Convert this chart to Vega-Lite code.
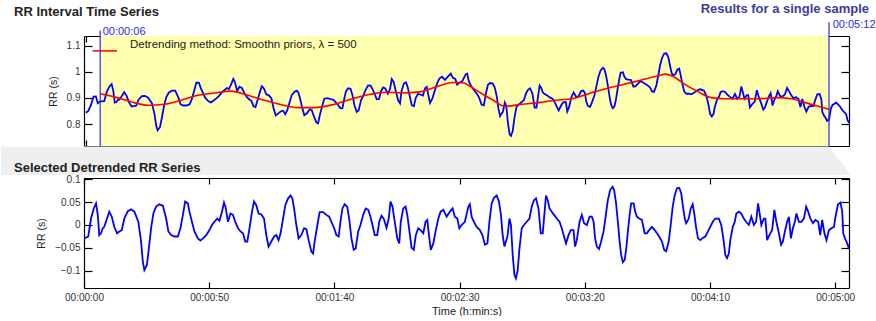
{
"$schema": "https://vega.github.io/schema/vega-lite/v6.json",
"background": "white",
"padding": {"left": 0, "top": 2, "right": 0, "bottom": 0},
"bounds": "flush",
"spacing": 32,
"config": {
  "view": {"stroke": null},
  "font": "Liberation Sans",
  "axis": {"domain": true, "domainColor": "#000", "domainWidth": 1.2, "grid": false, "labelFont": "Liberation Sans", "labelFontSize": 10, "labelColor": "#333", "tickColor": "#000", "tickWidth": 1.2, "titleFont": "Liberation Sans", "titleFontSize": 10.5, "titleFontWeight": "normal", "titleColor": "#222", "zindex": 1},
  "title": {"font": "Liberation Sans", "fontSize": 13, "fontWeight": "bold", "color": "#222", "anchor": "start", "frame": "group", "baseline": "alphabetic"}
},
"datasets": {
"rr": [{"t":0,"v":0.843},{"t":1.0,"v":0.850},{"t":2.1,"v":0.872},{"t":3.2,"v":0.905},{"t":4.2,"v":0.906},{"t":5.0,"v":0.880},{"t":5.6,"v":0.884},
{"t":6.1,"v":0.887},{"t":7.7,"v":0.888},{"t":8.8,"v":0.924},{"t":9.9,"v":0.944},{"t":10.8,"v":0.953},{"t":11.5,"v":0.927},{"t":12.1,"v":0.882},{"t":12.8,"v":0.884},{"t":13.5,"v":0.893},{"t":14.1,"v":0.894},{"t":15.2,"v":0.909},{"t":16.1,"v":0.922},{"t":17.1,"v":0.908},{"t":18.1,"v":0.883},{"t":19.2,"v":0.867},{"t":20.1,"v":0.869},{"t":21.1,"v":0.870},{"t":22.1,"v":0.893},{"t":23.5,"v":0.907},{"t":24.8,"v":0.908},{"t":26.1,"v":0.901},{"t":27.7,"v":0.880},{"t":28.8,"v":0.838},{"t":29.5,"v":0.794},{"t":30.1,"v":0.776},{"t":31.1,"v":0.788},{"t":31.9,"v":0.824},{"t":32.8,"v":0.869},{"t":33.7,"v":0.902},{"t":34.8,"v":0.920},{"t":36.1,"v":0.928},{"t":37.5,"v":0.928},{"t":38.8,"v":0.902},{"t":39.7,"v":0.876},{"t":40.8,"v":0.871},{"t":42.1,"v":0.871},{"t":43.5,"v":0.875},{"t":44.5,"v":0.896},{"t":45.5,"v":0.928},{"t":46.4,"v":0.959},{"t":47.5,"v":0.958},{"t":48.1,"v":0.940},{"t":49.1,"v":0.920},{"t":50.1,"v":0.900},{"t":51.5,"v":0.887},{"t":52.5,"v":0.883},{"t":53.5,"v":0.889},{"t":54.8,"v":0.898},{"t":56.1,"v":0.910},{"t":57.1,"v":0.922},{"t":58.1,"v":0.930},{"t":59.2,"v":0.938},{"t":60.1,"v":0.934},{"t":61.1,"v":0.955},{"t":61.9,"v":0.973},{"t":62.5,"v":0.963},{"t":63.5,"v":0.927},{"t":64.5,"v":0.943},{"t":65.5,"v":0.938},{"t":66.4,"v":0.921},{"t":67.5,"v":0.904},{"t":68.5,"v":0.895},{"t":69.5,"v":0.888},{"t":70.4,"v":0.868},{"t":71.2,"v":0.865},{"t":72.1,"v":0.892},{"t":73.1,"v":0.925},{"t":73.9,"v":0.945},{"t":74.8,"v":0.935},{"t":75.7,"v":0.914},{"t":76.8,"v":0.910},{"t":77.9,"v":0.898},{"t":78.8,"v":0.860},{"t":79.7,"v":0.833},{"t":80.8,"v":0.841},{"t":81.9,"v":0.849},{"t":82.8,"v":0.851},{"t":83.7,"v":0.838},{"t":84.5,"v":0.852},{"t":85.5,"v":0.882},{"t":86.4,"v":0.910},{"t":87.5,"v":0.923},{"t":88.5,"v":0.928},{"t":89.2,"v":0.921},{"t":89.9,"v":0.899},{"t":90.8,"v":0.863},{"t":91.7,"v":0.834},{"t":92.8,"v":0.841},{"t":93.9,"v":0.856},{"t":94.8,"v":0.854},{"t":95.7,"v":0.830},{"t":96.8,"v":0.806},{"t":97.5,"v":0.803},{"t":98.1,"v":0.830},{"t":99.2,"v":0.868},{"t":100.1,"v":0.897},{"t":101.5,"v":0.899},{"t":102.8,"v":0.895},{"t":103.9,"v":0.893},{"t":104.8,"v":0.884},{"t":105.9,"v":0.873},{"t":106.8,"v":0.861},{"t":107.7,"v":0.860},
{"t":108.4,"v":0.894},{"t":109.2,"v":0.925},{"t":110.1,"v":0.937},{"t":111.1,"v":0.935},{"t":111.9,"v":0.911},{"t":112.8,"v":0.870},{"t":113.7,"v":0.847},{"t":114.5,"v":0.852},{"t":115.5,"v":0.891},{"t":116.4,"v":0.907},{"t":117.5,"v":0.932},{"t":118.5,"v":0.948},{"t":119.5,"v":0.947},{"t":120.4,"v":0.933},{"t":121.2,"v":0.916},{"t":122.1,"v":0.895},{"t":123.1,"v":0.896},{"t":123.9,"v":0.926},{"t":124.8,"v":0.940},{"t":125.7,"v":0.936},{"t":126.8,"v":0.916},{"t":127.7,"v":0.935},{"t":128.4,"v":0.972},{"t":129.2,"v":0.961},{"t":130.1,"v":0.927},{"t":131.1,"v":0.891},{"t":131.9,"v":0.879},{"t":132.5,"v":0.926},{"t":133.5,"v":0.955},{"t":134.4,"v":0.960},{"t":135.1,"v":0.942},{"t":135.9,"v":0.910},{"t":136.8,"v":0.872},{"t":137.7,"v":0.868},{"t":138.5,"v":0.900},{"t":139.5,"v":0.916},{"t":140.4,"v":0.913},{"t":141.5,"v":0.909},{"t":142.4,"v":0.937},{"t":143.1,"v":0.942},{"t":143.9,"v":0.905},{"t":144.5,"v":0.881},{"t":145.5,"v":0.898},{"t":146.4,"v":0.926},{"t":147.5,"v":0.957},{"t":148.4,"v":0.974},{"t":149.5,"v":0.981},{"t":150.8,"v":0.969},{"t":152.1,"v":0.983},{"t":153.2,"v":0.993},{"t":154.1,"v":0.977},{"t":155.1,"v":0.973},{"t":155.9,"v":0.951},{"t":156.8,"v":0.958},{"t":158.1,"v":0.965},{"t":159.5,"v":0.991},{"t":160.1,"v":0.993},{"t":160.8,"v":0.963},{"t":161.7,"v":0.947},{"t":162.8,"v":0.931},{"t":164.1,"v":0.917},{"t":165.1,"v":0.901},{"t":166.1,"v":0.875},{"t":167.1,"v":0.872},{"t":167.9,"v":0.915},{"t":168.8,"v":0.950},{"t":169.7,"v":0.957},{"t":170.8,"v":0.956},{"t":171.7,"v":0.939},{"t":172.5,"v":0.906},{"t":173.2,"v":0.859},{"t":173.9,"v":0.830},{"t":174.5,"v":0.839},{"t":175.1,"v":0.847},{"t":175.9,"v":0.882},{"t":176.5,"v":0.869},{"t":177.2,"v":0.804},{"t":177.9,"v":0.761},{"t":178.5,"v":0.755},{"t":179.2,"v":0.773},{"t":179.9,"v":0.821},{"t":180.8,"v":0.866},{"t":181.7,"v":0.874},{"t":182.8,"v":0.883},{"t":183.9,"v":0.891},{"t":184.8,"v":0.918},{"t":185.7,"v":0.932},{"t":186.5,"v":0.937},{"t":187.5,"v":0.916},{"t":188.4,"v":0.863},{"t":189.2,"v":0.863},{"t":189.7,"v":0.896},{"t":190.5,"v":0.947},{"t":191.2,"v":0.938},{"t":191.9,"v":0.920},{"t":192.8,"v":0.914},{"t":193.7,"v":0.909},{"t":194.8,"v":0.902},{"t":195.9,"v":0.897},{"t":196.8,"v":0.884},{"t":197.7,"v":0.867},{"t":198.5,"v":0.852},{"t":199.5,"v":0.871},{"t":200.4,"v":0.883},{"t":201.5,"v":0.884},{"t":202.1,"v":0.848},{"t":202.8,"v":0.863},{"t":203.9,"v":0.904},{"t":204.8,"v":0.921},{"t":205.7,"v":0.906},{"t":206.8,"v":0.905},{"t":207.9,"v":0.926},{"t":208.8,"v":0.928},
{"t":209.5,"v":0.919},{"t":210.1,"v":0.885},{"t":210.8,"v":0.869},{"t":211.7,"v":0.866},{"t":212.5,"v":0.884},{"t":213.5,"v":0.909},{"t":214.4,"v":0.947},{"t":215.2,"v":0.981},{"t":216.1,"v":1.005},{"t":217.1,"v":1.015},{"t":217.7,"v":1.010},{"t":218.4,"v":0.986},{"t":219.2,"v":0.944},{"t":219.9,"v":0.903},{"t":220.5,"v":0.875},{"t":221.2,"v":0.861},{"t":221.9,"v":0.867},{"t":222.5,"v":0.891},{"t":223.2,"v":0.932},{"t":223.9,"v":0.970},{"t":224.5,"v":0.996},{"t":225.5,"v":0.998},{"t":226.1,"v":0.981},{"t":226.8,"v":0.972},{"t":227.7,"v":0.970},{"t":228.8,"v":0.969},{"t":229.9,"v":0.943},{"t":230.8,"v":0.945},{"t":231.7,"v":0.954},{"t":232.8,"v":0.964},{"t":233.9,"v":0.959},{"t":234.8,"v":0.954},{"t":235.7,"v":0.949},{"t":236.8,"v":0.941},{"t":237.7,"v":0.925},{"t":238.5,"v":0.923},{"t":239.5,"v":0.947},{"t":240.3,"v":0.985},{"t":241.1,"v":1.026},{"t":241.9,"v":1.053},{"t":242.8,"v":1.070},{"t":243.7,"v":1.071},{"t":244.5,"v":1.057},{"t":245.2,"v":1.026},{"t":245.9,"v":0.997},{"t":246.5,"v":0.986},{"t":247.5,"v":0.991},{"t":248.3,"v":1.008},{"t":249.1,"v":1.012},{"t":249.7,"v":0.988},{"t":250.4,"v":0.955},{"t":251.2,"v":0.925},{"t":252.1,"v":0.916},{"t":253.1,"v":0.916},{"t":254.1,"v":0.914},{"t":255.2,"v":0.919},{"t":256.1,"v":0.925},{"t":257.1,"v":0.931},{"t":258.1,"v":0.933},{"t":259.5,"v":0.928},{"t":260.5,"v":0.909},{"t":261.5,"v":0.869},{"t":262.1,"v":0.838},{"t":262.8,"v":0.829},{"t":263.5,"v":0.838},{"t":264.1,"v":0.867},{"t":265.1,"v":0.895},{"t":265.9,"v":0.906},{"t":266.5,"v":0.923},{"t":267.5,"v":0.926},{"t":268.5,"v":0.922},{"t":269.5,"v":0.911},{"t":270.4,"v":0.904},{"t":271.5,"v":0.897},{"t":272.5,"v":0.915},{"t":273.5,"v":0.897},{"t":274.4,"v":0.904},{"t":275.2,"v":0.944},{"t":275.9,"v":0.919},{"t":276.5,"v":0.897},{"t":277.5,"v":0.911},{"t":278.1,"v":0.911},{"t":278.8,"v":0.864},{"t":279.7,"v":0.875},{"t":280.8,"v":0.886},{"t":281.7,"v":0.930},{"t":282.5,"v":0.904},{"t":283.5,"v":0.880},{"t":284.4,"v":0.855},{"t":285.1,"v":0.863},{"t":285.9,"v":0.885},{"t":286.8,"v":0.907},{"t":287.5,"v":0.918},{"t":288.3,"v":0.871},{"t":289.1,"v":0.894},{"t":289.9,"v":0.908},{"t":290.5,"v":0.926},{"t":291.5,"v":0.907},{"t":292.5,"v":0.906},{"t":293.5,"v":0.913},{"t":294.4,"v":0.938},{"t":295.2,"v":0.926},{"t":296.1,"v":0.911},{"t":297.1,"v":0.898},{"t":298.1,"v":0.903},{"t":299.2,"v":0.896},{"t":300.0,"v":0.865},{"t":300.8,"v":0.896},{"t":301.7,"v":0.865},{"t":302.5,"v":0.848},{"t":303.5,"v":0.867},{"t":304.5,"v":0.869},{"t":305.5,"v":0.869},{"t":306.1,"v":0.889},{"t":307.1,"v":0.914},{"t":308.1,"v":0.915},{"t":308.8,"v":0.894},{"t":309.2,"v":0.846},{"t":309.9,"v":0.833},{"t":310.5,"v":0.825},{"t":311.2,"v":0.812},{"t":312.0,"v":0.817},
{"t":312.8,"v":0.860},{"t":313.5,"v":0.873},{"t":315.0,"v":0.882},{"t":316.4,"v":0.870},{"t":317.8,"v":0.851},{"t":319.2,"v":0.838},{"t":319.8,"v":0.815},{"t":320.4,"v":0.805}],
"trend": [{"t":6,"v":0.916},{"t":12,"v":0.904},{"t":19,"v":0.885},{"t":26,"v":0.872},{"t":33,"v":0.876},{"t":40,"v":0.891},{"t":47,"v":0.910},{"t":54,"v":0.919},{"t":61,"v":0.926},{"t":68,"v":0.910},{"t":75,"v":0.891},{"t":82,"v":0.874},{"t":89,"v":0.863},{"t":96,"v":0.863},{"t":104,"v":0.875},{"t":112,"v":0.897},{"t":119,"v":0.913},{"t":126,"v":0.922},{"t":133,"v":0.919},{"t":140,"v":0.923},{"t":147,"v":0.942},{"t":154,"v":0.959},{"t":158,"v":0.958},{"t":164,"v":0.929},{"t":171,"v":0.891},{"t":176,"v":0.868},{"t":183,"v":0.876},{"t":190,"v":0.882},{"t":197,"v":0.891},{"t":204,"v":0.897},{"t":212,"v":0.919},{"t":219,"v":0.937},{"t":226,"v":0.952},{"t":233,"v":0.968},{"t":240,"v":0.984},{"t":243.5,"v":0.991},{"t":247,"v":0.980},{"t":251,"v":0.955},{"t":257,"v":0.924},{"t":262.5,"v":0.901},{"t":268,"v":0.897},{"t":275,"v":0.897},{"t":282,"v":0.897},{"t":290,"v":0.901},{"t":296,"v":0.897},{"t":302,"v":0.882},{"t":307,"v":0.869},{"t":312,"v":0.857}],
"detr": [{"t":0.1,"v":-0.029},{"t":1.7,"v":-0.025},{"t":2.8,"v":0.014},{"t":3.9,"v":0.036},{"t":4.8,"v":0.047},{"t":5.5,"v":0.022},{"t":6.1,"v":-0.022},{"t":6.8,"v":-0.018},{"t":7.5,"v":-0.007},{"t":8.1,"v":-0.004},{"t":9.2,"v":0.014},{"t":10.1,"v":0.029},{"t":11.1,"v":0.018},{"t":12.1,"v":-0.004},{"t":13.2,"v":-0.018},{"t":14.1,"v":-0.014},{"t":15.1,"v":-0.011},{"t":16.1,"v":0.014},{"t":17.5,"v":0.030},{"t":18.8,"v":0.034},{"t":20.1,"v":0.029},{"t":21.7,"v":0.007},{"t":22.8,"v":-0.036},{"t":23.5,"v":-0.080},{"t":24.1,"v":-0.098},{"t":25.1,"v":-0.087},{"t":25.9,"v":-0.051},{"t":26.8,"v":-0.007},{"t":27.7,"v":0.025},{"t":28.8,"v":0.040},{"t":30.1,"v":0.045},{"t":31.5,"v":0.042},{"t":32.8,"v":0.014},{"t":33.7,"v":-0.014},{"t":34.8,"v":-0.022},{"t":36.1,"v":-0.025},{"t":37.5,"v":-0.025},{"t":38.5,"v":-0.007},{"t":39.5,"v":0.022},{"t":40.4,"v":0.051},{"t":41.5,"v":0.047},{"t":42.1,"v":0.029},{"t":43.1,"v":0.007},{"t":44.1,"v":-0.014},{"t":45.5,"v":-0.029},{"t":46.5,"v":-0.034},{"t":47.5,"v":-0.029},{"t":48.8,"v":-0.022},{"t":50.1,"v":-0.011},{"t":51.1,"v":0.000},{"t":52.1,"v":0.007},{"t":53.2,"v":0.014},{"t":54.1,"v":0.009},{"t":55.1,"v":0.029},{"t":55.9,"v":0.049},{"t":56.5,"v":0.040},{"t":57.5,"v":0.007},{"t":58.5,"v":0.025},{"t":59.5,"v":0.022},{"t":60.4,"v":0.007},{"t":61.5,"v":-0.007},{"t":62.5,"v":-0.014},{"t":63.5,"v":-0.018},{"t":64.4,"v":-0.036},{"t":65.2,"v":-0.036},{"t":66.1,"v":-0.007},{"t":67.1,"v":0.029},{"t":67.9,"v":0.051},{"t":68.8,"v":0.043},{"t":69.7,"v":0.025},{"t":70.8,"v":0.023},{"t":71.9,"v":0.014},{"t":72.8,"v":-0.022},{"t":73.7,"v":-0.047},{"t":74.8,"v":-0.036},{"t":75.9,"v":-0.025},{"t":76.8,"v":-0.022},{"t":77.7,"v":-0.033},{"t":78.5,"v":-0.018},{"t":79.5,"v":0.014},{"t":80.4,"v":0.043},{"t":81.5,"v":0.058},{"t":82.5,"v":0.064},{"t":83.2,"v":0.058},{"t":83.9,"v":0.036},{"t":84.8,"v":0.000},{"t":85.7,"v":-0.029},{"t":86.8,"v":-0.022},{"t":87.9,"v":-0.007},{"t":88.8,"v":-0.009},{"t":89.7,"v":-0.033},{"t":90.8,"v":-0.058},{"t":91.5,"v":-0.062},{"t":92.1,"v":-0.036},{"t":93.2,"v":0.000},{"t":94.1,"v":0.028},{"t":95.5,"v":0.028},{"t":96.8,"v":0.022},{"t":97.9,"v":0.018},{"t":98.8,"v":0.007},{"t":99.9,"v":-0.007},{"t":100.8,"v":-0.022},{"t":101.7,"v":-0.025},
{"t":102.4,"v":0.007},{"t":103.2,"v":0.036},{"t":104.1,"v":0.045},{"t":105.1,"v":0.040},{"t":105.9,"v":0.014},{"t":106.8,"v":-0.029},{"t":107.7,"v":-0.054},{"t":108.5,"v":-0.051},{"t":109.5,"v":-0.014},{"t":110.4,"v":0.000},{"t":111.5,"v":0.022},{"t":112.5,"v":0.036},{"t":113.5,"v":0.033},{"t":114.4,"v":0.018},{"t":115.2,"v":0.000},{"t":116.1,"v":-0.022},{"t":117.1,"v":-0.022},{"t":117.9,"v":0.007},{"t":118.8,"v":0.020},{"t":119.7,"v":0.014},{"t":120.8,"v":-0.006},{"t":121.7,"v":0.014},{"t":122.4,"v":0.051},{"t":123.2,"v":0.040},{"t":124.1,"v":0.007},{"t":125.1,"v":-0.029},{"t":125.9,"v":-0.040},{"t":126.5,"v":0.007},{"t":127.5,"v":0.036},{"t":128.4,"v":0.040},{"t":129.1,"v":0.022},{"t":129.9,"v":-0.011},{"t":130.8,"v":-0.049},{"t":131.7,"v":-0.054},{"t":132.5,"v":-0.022},{"t":133.5,"v":-0.007},{"t":134.4,"v":-0.011},{"t":135.5,"v":-0.018},{"t":136.4,"v":0.007},{"t":137.1,"v":0.011},{"t":137.9,"v":-0.029},{"t":138.5,"v":-0.054},{"t":139.5,"v":-0.040},{"t":140.4,"v":-0.014},{"t":141.5,"v":0.014},{"t":142.4,"v":0.029},{"t":143.5,"v":0.033},{"t":144.8,"v":0.018},{"t":146.1,"v":0.029},{"t":147.2,"v":0.036},{"t":148.1,"v":0.018},{"t":149.1,"v":0.014},{"t":149.9,"v":-0.007},{"t":150.8,"v":0.000},{"t":152.1,"v":0.007},{"t":153.5,"v":0.040},{"t":154.1,"v":0.045},{"t":154.8,"v":0.018},{"t":155.7,"v":0.007},{"t":156.8,"v":-0.004},{"t":158.1,"v":-0.011},{"t":159.1,"v":-0.022},{"t":160.1,"v":-0.043},{"t":161.1,"v":-0.040},{"t":161.9,"v":0.007},{"t":162.8,"v":0.047},{"t":163.7,"v":0.059},{"t":164.8,"v":0.064},{"t":165.7,"v":0.051},{"t":166.5,"v":0.022},{"t":167.2,"v":-0.022},{"t":167.9,"v":-0.047},{"t":168.5,"v":-0.036},{"t":169.1,"v":-0.025},{"t":169.9,"v":0.014},{"t":170.5,"v":0.000},{"t":171.2,"v":-0.065},{"t":171.9,"v":-0.109},{"t":172.5,"v":-0.116},{"t":173.2,"v":-0.098},{"t":173.9,"v":-0.051},{"t":174.8,"v":-0.007},{"t":175.7,"v":0.000},{"t":176.8,"v":0.007},{"t":177.9,"v":0.014},{"t":178.8,"v":0.040},{"t":179.7,"v":0.054},{"t":180.5,"v":0.058},{"t":181.5,"v":0.036},{"t":182.4,"v":-0.018},{"t":183.2,"v":-0.018},{"t":183.7,"v":0.014},{"t":184.5,"v":0.064},{"t":185.2,"v":0.054},{"t":185.9,"v":0.036},{"t":186.8,"v":0.029},{"t":187.7,"v":0.022},{"t":188.8,"v":0.014},{"t":189.9,"v":0.007},{"t":190.8,"v":-0.007},{"t":191.7,"v":-0.025},{"t":192.5,"v":-0.040},{"t":193.5,"v":-0.022},{"t":194.4,"v":-0.011},{"t":195.5,"v":-0.011},{"t":196.1,"v":-0.047},{"t":196.8,"v":-0.033},{"t":197.9,"v":0.007},{"t":198.8,"v":0.022},{"t":199.7,"v":0.004},{"t":200.8,"v":0.000},{"t":201.9,"v":0.018},{"t":202.8,"v":0.018},
{"t":203.5,"v":0.007},{"t":204.1,"v":-0.029},{"t":204.8,"v":-0.047},{"t":205.7,"v":-0.052},{"t":206.5,"v":-0.036},{"t":207.5,"v":-0.014},{"t":208.4,"v":0.022},{"t":209.2,"v":0.054},{"t":210.1,"v":0.076},{"t":211.1,"v":0.083},{"t":211.7,"v":0.076},{"t":212.4,"v":0.051},{"t":213.2,"v":0.007},{"t":213.9,"v":-0.036},{"t":214.5,"v":-0.065},{"t":215.2,"v":-0.081},{"t":215.9,"v":-0.076},{"t":216.5,"v":-0.054},{"t":217.2,"v":-0.014},{"t":217.9,"v":0.022},{"t":218.5,"v":0.047},{"t":219.5,"v":0.047},{"t":220.1,"v":0.029},{"t":220.8,"v":0.018},{"t":221.7,"v":0.014},{"t":222.8,"v":0.011},{"t":223.9,"v":-0.018},{"t":224.8,"v":-0.018},{"t":225.7,"v":-0.011},{"t":226.8,"v":-0.004},{"t":227.9,"v":-0.011},{"t":228.8,"v":-0.018},{"t":229.7,"v":-0.025},{"t":230.8,"v":-0.036},{"t":231.7,"v":-0.054},{"t":232.5,"v":-0.057},{"t":233.5,"v":-0.036},{"t":234.3,"v":0.000},{"t":235.1,"v":0.040},{"t":235.9,"v":0.065},{"t":236.8,"v":0.080},{"t":237.7,"v":0.081},{"t":238.5,"v":0.069},{"t":239.2,"v":0.040},{"t":239.9,"v":0.014},{"t":240.5,"v":0.004},{"t":241.5,"v":0.014},{"t":242.3,"v":0.036},{"t":243.1,"v":0.045},{"t":243.7,"v":0.025},{"t":244.4,"v":-0.004},{"t":245.2,"v":-0.029},{"t":246.1,"v":-0.033},{"t":247.1,"v":-0.028},{"t":248.1,"v":-0.025},{"t":249.2,"v":-0.014},{"t":250.1,"v":-0.004},{"t":251.1,"v":0.007},{"t":252.1,"v":0.014},{"t":253.5,"v":0.014},{"t":254.5,"v":0.000},{"t":255.5,"v":-0.036},{"t":256.1,"v":-0.065},{"t":256.8,"v":-0.072},{"t":257.5,"v":-0.062},{"t":258.1,"v":-0.033},{"t":259.1,"v":-0.004},{"t":259.9,"v":0.007},{"t":260.5,"v":0.025},{"t":261.5,"v":0.029},{"t":262.5,"v":0.025},{"t":263.5,"v":0.014},{"t":264.4,"v":0.007},{"t":265.5,"v":0.000},{"t":266.5,"v":0.018},{"t":267.5,"v":0.000},{"t":268.4,"v":0.007},{"t":269.2,"v":0.047},{"t":269.9,"v":0.022},{"t":270.5,"v":0.000},{"t":271.5,"v":0.014},{"t":272.1,"v":0.014},{"t":272.8,"v":-0.033},{"t":273.7,"v":-0.022},{"t":274.8,"v":-0.011},{"t":275.7,"v":0.033},{"t":276.5,"v":0.007},{"t":277.5,"v":-0.018},{"t":278.4,"v":-0.043},{"t":279.1,"v":-0.036},{"t":279.9,"v":-0.014},{"t":280.8,"v":0.007},{"t":281.5,"v":0.018},{"t":282.3,"v":-0.029},{"t":283.1,"v":-0.007},{"t":283.9,"v":0.007},{"t":284.5,"v":0.025},{"t":285.5,"v":0.007},{"t":286.5,"v":0.007},{"t":287.5,"v":0.014},{"t":288.4,"v":0.040},{"t":289.2,"v":0.029},{"t":290.1,"v":0.014},{"t":291.1,"v":0.004},{"t":292.1,"v":0.011},{"t":293.2,"v":0.007},{"t":294.0,"v":-0.022},{"t":294.8,"v":0.011},{"t":295.7,"v":-0.018},{"t":296.5,"v":-0.033},{"t":297.5,"v":-0.011},{"t":298.5,"v":-0.007},{"t":299.5,"v":-0.004},{"t":300.1,"v":0.018},{"t":301.1,"v":0.045},{"t":302.1,"v":0.049},{"t":302.8,"v":0.029},{"t":303.2,"v":-0.018},{"t":303.9,"v":-0.029},{"t":304.5,"v":-0.036},{"t":305.2,"v":-0.047},{"t":305.5,"v":-0.042}],
"link": [{"level":0.7145,"from":-35.65,"to":312},{"level":0.605,"from":-35.65,"to":321.2}]
},
"vconcat": [
{
  "width": 765, "height": 110,
  "title": {"text": "RR Interval Time Series", "dx": -70, "dy": 35.3, "offset": 18.5},
  "layer": [
    {"data": {"name": "link"}, "mark": {"type": "area", "orient": "horizontal", "color": "#efefef"},
     "encoding": {"y": {"field": "level", "type": "quantitative", "axis": null}, "x": {"field": "from", "type": "quantitative", "axis": null}, "x2": {"field": "to"}}},
    {"data": {"values": [{}]}, "mark": {"type": "rect", "color": "#ffffb0"},
     "encoding": {"x": {"datum": 6, "type": "quantitative", "axis": null}, "x2": {"datum": 312}}},
    {"data": {"name": "rr"}, "mark": {"type": "line", "color": "#0000ff", "strokeWidth": 1.8},
     "encoding": {
       "x": {"field": "t", "type": "quantitative", "scale": {"domain": [-0.8, 320.4], "nice": false, "zero": false},
             "axis": {"orient": "bottom", "values": [0, 50, 100, 150, 200, 250, 300], "labelExpr": "utcFormat(datum.value*1000, '%H:%M:%S')", "tickSize": -6, "labelPadding": 10, "title": null, "labelFlush": false, "labelOverlap": false}},
       "y": {"field": "v", "type": "quantitative", "scale": {"domain": [0.716, 1.137], "nice": false, "zero": false},
             "axis": {"orient": "left", "values": [0.8, 0.9, 1, 1.1], "format": "~g", "tickSize": -8, "labelPadding": 12, "title": "RR (s)", "titlePadding": 8}}}},
    {"data": {"name": "trend"}, "mark": {"type": "line", "color": "#ff0000", "strokeWidth": 1.6, "interpolate": "monotone"},
     "encoding": {
       "x": {"field": "t", "type": "quantitative", "axis": {"orient": "top", "values": [0, 50, 100, 150, 200, 250, 300], "labels": false, "tickSize": -6, "title": null}},
       "y": {"field": "v", "type": "quantitative", "axis": {"orient": "right", "values": [0.8, 0.9, 1, 1.1], "labels": false, "tickSize": -8, "title": null}}}},
    {"data": {"values": [{}]}, "mark": {"type": "rule", "color": "#ff0000", "strokeWidth": 1.5},
     "encoding": {"x": {"datum": 2.85, "type": "quantitative", "axis": null}, "x2": {"datum": 13.06}, "y": {"datum": 1.08, "type": "quantitative", "axis": null}}},
    {"data": {"values": [{}]}, "mark": {"type": "text", "align": "left", "baseline": "alphabetic", "fontSize": 11.5, "color": "#222", "font": "Liberation Sans", "text": "Detrending method: Smoothn priors, λ = 500"},
     "encoding": {"x": {"datum": 18.5, "type": "quantitative", "axis": null}, "y": {"datum": 1.092, "type": "quantitative", "axis": null}}},
    {"data": {"values": [{}]}, "mark": {"type": "rule", "color": "#2a2ae6", "strokeWidth": 1.2},
     "encoding": {"x": {"datum": 6, "type": "quantitative", "axis": null}, "y": {"datum": 0.716, "type": "quantitative", "axis": null}, "y2": {"datum": 1.158}}},
    {"data": {"values": [{}]}, "mark": {"type": "rule", "color": "#2a2ae6", "strokeWidth": 1.2},
     "encoding": {"x": {"datum": 312, "type": "quantitative", "axis": null}, "y": {"datum": 0.716, "type": "quantitative", "axis": null}, "y2": {"datum": 1.19}}},
    {"data": {"values": [{}]}, "mark": {"type": "text", "align": "left", "baseline": "middle", "dx": 2.5, "fontSize": 11, "color": "#2a2ae6", "font": "Liberation Sans", "text": "00:00:06"},
     "encoding": {"x": {"datum": 6, "type": "quantitative", "axis": null}, "y": {"datum": 1.152, "type": "quantitative", "axis": null}}},
    {"data": {"values": [{}]}, "mark": {"type": "text", "align": "left", "baseline": "middle", "dx": 3.7, "fontSize": 11, "color": "#2a2ae6", "font": "Liberation Sans", "text": "00:05:12"},
     "encoding": {"x": {"datum": 312, "type": "quantitative", "axis": null}, "y": {"datum": 1.179, "type": "quantitative", "axis": null}}},
    {"data": {"values": [{}]}, "mark": {"type": "text", "align": "right", "baseline": "middle", "fontSize": 13, "fontWeight": "bold", "color": "#3c3ca0", "font": "Liberation Sans", "text": "Results for a single sample"},
     "encoding": {"x": {"datum": 328.8, "type": "quantitative", "axis": null}, "y": {"datum": 1.242, "type": "quantitative", "axis": null}}}
  ],
  "resolve": {"axis": {"x": "independent", "y": "independent"}}
},
{
  "width": 765, "height": 110,
  "title": {"text": "Selected Detrended RR Series", "dx": -70, "dy": 4.3, "offset": 3.5},
  "data": {"name": "detr"},
  "layer": [
    {"mark": {"type": "line", "color": "#0000ff", "strokeWidth": 1.8},
     "encoding": {
       "x": {"field": "t", "type": "quantitative", "scale": {"domain": [0, 305.5], "nice": false, "zero": false},
             "axis": {"orient": "bottom", "values": [0, 50, 100, 150, 200, 250, 300], "labelExpr": "utcFormat(datum.value*1000, '%H:%M:%S')", "tickSize": -6, "labelPadding": 10, "title": "Time (h:min:s)", "titlePadding": 3, "titleFontSize": 11, "labelFlush": false, "labelOverlap": false}},
       "y": {"field": "v", "type": "quantitative", "scale": {"domain": [-0.137, 0.1022], "nice": false, "zero": false},
             "axis": {"orient": "left", "values": [-0.1, -0.05, 0, 0.05, 0.1], "format": "~g", "tickSize": -8, "labelPadding": 12, "title": "RR (s)", "titlePadding": 8}}}},
    {"mark": {"type": "line", "strokeOpacity": 0},
     "encoding": {
       "x": {"field": "t", "type": "quantitative", "axis": {"orient": "top", "values": [0, 50, 100, 150, 200, 250, 300], "labels": false, "tickSize": -6, "title": null}},
       "y": {"field": "v", "type": "quantitative", "axis": {"orient": "right", "values": [-0.1, -0.05, 0, 0.05, 0.1], "labels": false, "tickSize": -8, "title": null}}}}
  ],
  "resolve": {"axis": {"x": "independent", "y": "independent"}}
}
]
}
